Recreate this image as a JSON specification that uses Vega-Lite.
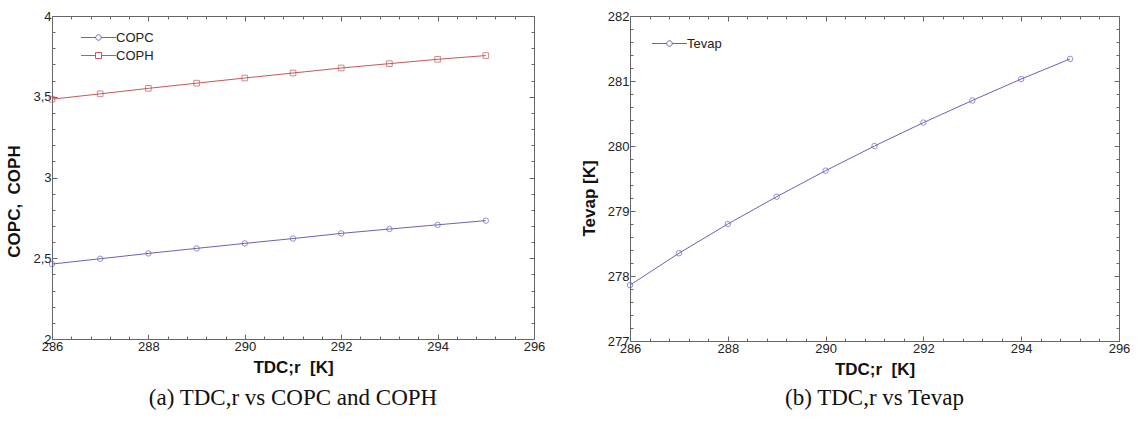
{
  "$schema": "https://vega.github.io/schema/vega-lite/v6.json",
  "padding": {"left": 5, "top": 9, "right": 5, "bottom": 5},
  "config": {
    "view": {"stroke": "#666666", "strokeWidth": 1},
    "font": "Liberation Sans",
    "axis": {
      "domain": false,
      "grid": false,
      "labelFont": "Liberation Sans",
      "labelFontSize": 13,
      "labelColor": "#222222",
      "labelFlush": false,
      "labelOverlap": false,
      "tickColor": "#666666",
      "titleFont": "Liberation Sans",
      "titleFontSize": 17,
      "titleFontWeight": "bold",
      "titleColor": "#111111"
    },
    "legend": {
      "labelFont": "Liberation Sans",
      "labelFontSize": 13,
      "labelColor": "#222222"
    },
    "title": {
      "font": "Liberation Serif",
      "fontSize": 23,
      "fontWeight": "normal",
      "color": "#111111"
    }
  },
  "datasets": {
    "cop": [
      {"T": 286, "series": "COPC", "value": 2.464},
      {"T": 287, "series": "COPC", "value": 2.497},
      {"T": 288, "series": "COPC", "value": 2.530},
      {"T": 289, "series": "COPC", "value": 2.561},
      {"T": 290, "series": "COPC", "value": 2.592},
      {"T": 291, "series": "COPC", "value": 2.622},
      {"T": 292, "series": "COPC", "value": 2.654},
      {"T": 293, "series": "COPC", "value": 2.681},
      {"T": 294, "series": "COPC", "value": 2.707},
      {"T": 295, "series": "COPC", "value": 2.733},
      {"T": 286, "series": "COPH", "value": 3.485},
      {"T": 287, "series": "COPH", "value": 3.518},
      {"T": 288, "series": "COPH", "value": 3.552},
      {"T": 289, "series": "COPH", "value": 3.584},
      {"T": 290, "series": "COPH", "value": 3.616},
      {"T": 291, "series": "COPH", "value": 3.647},
      {"T": 292, "series": "COPH", "value": 3.678},
      {"T": 293, "series": "COPH", "value": 3.705},
      {"T": 294, "series": "COPH", "value": 3.732},
      {"T": 295, "series": "COPH", "value": 3.755}
    ],
    "tevap": [
      {"T": 286, "series": "Tevap", "value": 277.86},
      {"T": 287, "series": "Tevap", "value": 278.35},
      {"T": 288, "series": "Tevap", "value": 278.80},
      {"T": 289, "series": "Tevap", "value": 279.22},
      {"T": 290, "series": "Tevap", "value": 279.62},
      {"T": 291, "series": "Tevap", "value": 280.00},
      {"T": 292, "series": "Tevap", "value": 280.36},
      {"T": 293, "series": "Tevap", "value": 280.70},
      {"T": 294, "series": "Tevap", "value": 281.03},
      {"T": 295, "series": "Tevap", "value": 281.34}
    ]
  },
  "hconcat": [
    {
      "width": 482,
      "height": 323,
      "data": {"name": "cop"},
      "title": {"text": "(a) TDC,r vs COPC and COPH", "orient": "bottom", "frame": "group", "anchor": "middle", "offset": 12},
      "layer": [
        {
          "mark": {"type": "line", "strokeWidth": 1},
          "encoding": {
            "x": {
              "field": "T", "type": "quantitative",
              "scale": {"domain": [286, 296], "nice": false, "zero": false},
              "axis": {
                "title": "TDC;r\u00a0\u00a0[K]",
                "titlePadding": 4,
                "values": [286, 286.4, 286.8, 287.2, 287.6, 288, 288.4, 288.8, 289.2, 289.6, 290, 290.4, 290.8, 291.2, 291.6, 292, 292.4, 292.8, 293.2, 293.6, 294, 294.4, 294.8, 295.2, 295.6, 296],
                "labelExpr": "abs(datum.value/2 - round(datum.value/2)) < 0.01 ? format(datum.value, 'd') : ''",
                "tickSize": {"condition": {"test": "abs(datum.value/2 - round(datum.value/2)) < 0.01", "value": -5}, "value": -3},
                "labelPadding": 6
              }
            },
            "y": {
              "field": "value", "type": "quantitative",
              "scale": {"domain": [2, 4], "nice": false, "zero": false},
              "axis": {
                "title": "COPC,\u00a0\u00a0COPH",
                "titlePadding": 9,
                "titleY": 185,
                "values": [2, 2.1, 2.2, 2.3, 2.4, 2.5, 2.6, 2.7, 2.8, 2.9, 3, 3.1, 3.2, 3.3, 3.4, 3.5, 3.6, 3.7, 3.8, 3.9, 4],
                "labelExpr": "abs(datum.value*2 - round(datum.value*2)) < 0.01 ? replace(format(datum.value, '~g'), '.', ',') : ''",
                "tickSize": {"condition": {"test": "abs(datum.value*2 - round(datum.value*2)) < 0.01", "value": -5}, "value": -3},
                "labelPadding": 6
              }
            },
            "color": {
              "field": "series", "type": "nominal",
              "scale": {"domain": ["COPC", "COPH"], "range": ["#6565b5", "#c45858"]},
              "legend": {
                "title": null,
                "orient": "none",
                "legendX": 39,
                "legendY": 14,
                "padding": 0,
                "rowPadding": 3,
                "labelOffset": 10,
                "symbolSize": 196,
                "symbolStrokeWidth": 1,
                "encode": {
                  "symbols": {
                    "update": {
                      "shape": {"signal": "datum.value === 'COPC' ? 'M-2.5,0H-0.39M0.39,0H2.5M0.39,0A0.39,0.39 0 1,1 -0.39,0A0.39,0.39 0 1,1 0.39,0' : 'M-2.5,0H-0.43M0.43,0H2.5M-0.43,-0.43H0.43V0.43H-0.43Z'"},
                      "fill": {"value": "transparent"},
                      "strokeWidth": {"value": 1}
                    }
                  }
                }
              }
            }
          }
        },
        {
          "transform": [{"filter": "datum.series === 'COPC'"}],
          "mark": {"type": "point", "filled": false, "strokeWidth": 1, "size": 30, "shape": "circle"},
          "encoding": {
            "x": {"field": "T", "type": "quantitative", "axis": null},
            "y": {"field": "value", "type": "quantitative", "axis": null},
            "color": {"field": "series", "type": "nominal"}
          }
        },
        {
          "transform": [{"filter": "datum.series === 'COPH'"}],
          "mark": {"type": "point", "filled": false, "strokeWidth": 1, "size": 32, "shape": "square"},
          "encoding": {
            "x": {"field": "T", "type": "quantitative", "axis": null},
            "y": {"field": "value", "type": "quantitative", "axis": null},
            "color": {"field": "series", "type": "nominal"}
          }
        },
        {
          "mark": {"type": "point", "opacity": 0},
          "encoding": {
            "x": {
              "field": "T", "type": "quantitative",
              "axis": {
                "orient": "top", "title": null, "labels": false, "minExtent": 0, "maxExtent": 0,
                "values": [286, 286.4, 286.8, 287.2, 287.6, 288, 288.4, 288.8, 289.2, 289.6, 290, 290.4, 290.8, 291.2, 291.6, 292, 292.4, 292.8, 293.2, 293.6, 294, 294.4, 294.8, 295.2, 295.6, 296],
                "tickSize": {"condition": {"test": "abs(datum.value/2 - round(datum.value/2)) < 0.01", "value": -5}, "value": -3}
              }
            },
            "y": {
              "field": "value", "type": "quantitative",
              "axis": {
                "orient": "right", "title": null, "labels": false, "minExtent": 0, "maxExtent": 0,
                "values": [2, 2.1, 2.2, 2.3, 2.4, 2.5, 2.6, 2.7, 2.8, 2.9, 3, 3.1, 3.2, 3.3, 3.4, 3.5, 3.6, 3.7, 3.8, 3.9, 4],
                "tickSize": {"condition": {"test": "abs(datum.value*2 - round(datum.value*2)) < 0.01", "value": -5}, "value": -3}
              }
            }
          }
        }
      ],
      "resolve": {"axis": {"x": "independent", "y": "independent"}}
    },
    {
      "width": 489,
      "height": 325,
      "data": {"name": "tevap"},
      "title": {"text": "(b) TDC,r vs Tevap", "orient": "bottom", "frame": "group", "anchor": "middle", "offset": 10},
      "layer": [
        {
          "mark": {"type": "line", "strokeWidth": 1},
          "encoding": {
            "x": {
              "field": "T", "type": "quantitative",
              "scale": {"domain": [286, 296], "nice": false, "zero": false},
              "axis": {
                "title": "TDC;r\u00a0\u00a0[K]",
                "titlePadding": 4,
                "values": [286, 286.4, 286.8, 287.2, 287.6, 288, 288.4, 288.8, 289.2, 289.6, 290, 290.4, 290.8, 291.2, 291.6, 292, 292.4, 292.8, 293.2, 293.6, 294, 294.4, 294.8, 295.2, 295.6, 296],
                "labelExpr": "abs(datum.value/2 - round(datum.value/2)) < 0.01 ? format(datum.value, 'd') : ''",
                "tickSize": {"condition": {"test": "abs(datum.value/2 - round(datum.value/2)) < 0.01", "value": -5}, "value": -3},
                "labelPadding": 6
              }
            },
            "y": {
              "field": "value", "type": "quantitative",
              "scale": {"domain": [277, 282], "nice": false, "zero": false},
              "axis": {
                "title": "Tevap [K]",
                "titlePadding": 9,
                "titleY": 182,
                "values": [277, 277.2, 277.4, 277.6, 277.8, 278, 278.2, 278.4, 278.6, 278.8, 279, 279.2, 279.4, 279.6, 279.8, 280, 280.2, 280.4, 280.6, 280.8, 281, 281.2, 281.4, 281.6, 281.8, 282],
                "labelExpr": "abs(datum.value - round(datum.value)) < 0.01 ? format(datum.value, 'd') : ''",
                "tickSize": {"condition": {"test": "abs(datum.value - round(datum.value)) < 0.01", "value": -5}, "value": -3},
                "labelPadding": 6
              }
            },
            "color": {
              "field": "series", "type": "nominal",
              "scale": {"domain": ["Tevap"], "range": ["#6565b5"]},
              "legend": {
                "title": null,
                "orient": "none",
                "legendX": 32,
                "legendY": 20,
                "padding": 0,
                "labelOffset": 10,
                "symbolSize": 196,
                "symbolStrokeWidth": 1,
                "encode": {
                  "symbols": {
                    "update": {
                      "shape": {"value": "M-2.5,0H-0.39M0.39,0H2.5M0.39,0A0.39,0.39 0 1,1 -0.39,0A0.39,0.39 0 1,1 0.39,0"},
                      "fill": {"value": "transparent"},
                      "strokeWidth": {"value": 1}
                    }
                  }
                }
              }
            }
          }
        },
        {
          "mark": {"type": "point", "filled": false, "strokeWidth": 1, "size": 30, "shape": "circle"},
          "encoding": {
            "x": {"field": "T", "type": "quantitative", "axis": null},
            "y": {"field": "value", "type": "quantitative", "axis": null},
            "color": {"field": "series", "type": "nominal"}
          }
        },
        {
          "mark": {"type": "point", "opacity": 0},
          "encoding": {
            "x": {
              "field": "T", "type": "quantitative",
              "axis": {
                "orient": "top", "title": null, "labels": false, "minExtent": 0, "maxExtent": 0,
                "values": [286, 286.4, 286.8, 287.2, 287.6, 288, 288.4, 288.8, 289.2, 289.6, 290, 290.4, 290.8, 291.2, 291.6, 292, 292.4, 292.8, 293.2, 293.6, 294, 294.4, 294.8, 295.2, 295.6, 296],
                "tickSize": {"condition": {"test": "abs(datum.value/2 - round(datum.value/2)) < 0.01", "value": -5}, "value": -3}
              }
            },
            "y": {
              "field": "value", "type": "quantitative",
              "axis": {
                "orient": "right", "title": null, "labels": false, "minExtent": 0, "maxExtent": 0,
                "values": [277, 277.2, 277.4, 277.6, 277.8, 278, 278.2, 278.4, 278.6, 278.8, 279, 279.2, 279.4, 279.6, 279.8, 280, 280.2, 280.4, 280.6, 280.8, 281, 281.2, 281.4, 281.6, 281.8, 282],
                "tickSize": {"condition": {"test": "abs(datum.value - round(datum.value)) < 0.01", "value": -5}, "value": -3}
              }
            }
          }
        }
      ],
      "resolve": {"axis": {"x": "independent", "y": "independent"}}
    }
  ],
  "resolve": {"scale": {"color": "independent"}, "legend": {"color": "independent"}},
  "spacing": 33
}
